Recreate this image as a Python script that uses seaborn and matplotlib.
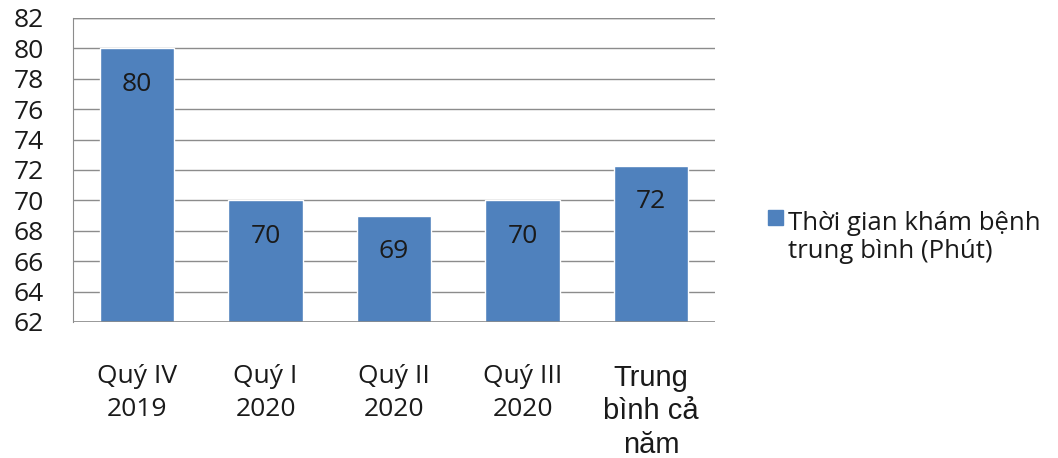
import pandas as pd
import seaborn as sns
import matplotlib.pyplot as plt
from matplotlib.patches import Rectangle

# Data
categories = ["Quý IV\n2019", "Quý I\n2020", "Quý II\n2020", "Quý III\n2020", "Trung\nbình cả\nnăm"]
values = [80, 70, 69, 70, 72.25]
bar_labels = ["80", "70", "69", "70", "72"]
series_name = "Thời gian khám bệnh\ntrung bình (Phút)"

df = pd.DataFrame({"cat": categories, "val": values})

sns.set_style("white")
plt.rcParams['font.family'] = ['Open Sans', 'DejaVu Sans']

blue = "#4F81BD"
grid = "#8c8c8c"
txt = "#1a1a1a"

fig = plt.figure(figsize=(10.58, 4.58), dpi=100)
ax = fig.add_axes([0.069, 0.297, 0.607, 0.664])

sns.barplot(data=df, x="cat", y="val", color=blue, saturation=1,
            width=0.58, ax=ax, zorder=3)

ax.set_ylim(62, 82)
ax.set_yticks(range(62, 83, 2))
ax.yaxis.grid(True, color=grid, linewidth=1, zorder=0)
ax.set_axisbelow(True)
for s in ["top", "right", "bottom"]:
    ax.spines[s].set_visible(False)
ax.spines["left"].set_color(grid)
ax.axhline(82, color=grid, linewidth=1, zorder=0)
ax.axhline(62, color=grid, linewidth=1.2, zorder=4)
ax.tick_params(axis="both", length=0, labelsize=19, colors=txt)
ax.tick_params(axis="x", pad=30)
ax.tick_params(axis="y", pad=21)
ax.set_xlabel("")
ax.set_ylabel("")

for t in ax.get_xticklabels():
    t.set_linespacing(1.45)
xt = ax.get_xticklabels()
xt[-1].set_family(['Liberation Sans', 'DejaVu Sans'])
xt[-1].set_fontsize(21)
xt[-1].set_linespacing(1.25)

for i, (v, lab) in enumerate(zip(values, bar_labels)):
    ax.text(i, v - 2.35, lab, ha="center", va="center", fontsize=19,
            color=txt, zorder=5)

# legend, marker lined up with the first text line
fig.patches.append(Rectangle((0.726, 0.509), 0.0142, 0.0328,
                             transform=fig.transFigure, facecolor=blue,
                             edgecolor=blue))
fig.text(0.745, 0.482, series_name, ha="left", va="center", fontsize=18.5,
         color=txt, linespacing=1.15)

plt.savefig("out.png", dpi=100)
